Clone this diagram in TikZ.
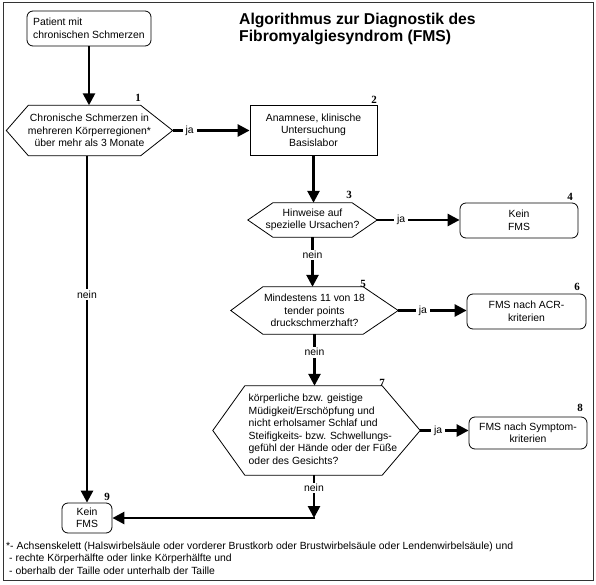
\documentclass[tikz,border=0pt]{standalone}
\usepackage{fontspec}
\setmainfont{Liberation Sans}
\newfontfamily\numfont{Liberation Serif}
\usetikzlibrary{arrows.meta}
\newcommand\hexpath[3]{\draw[hexline] (#1.west) -- ([xshift=#2pt]#1.north west) -- ([xshift=-#3pt]#1.north east) -- (#1.east) -- ([xshift=-#3pt]#1.south east) -- ([xshift=#2pt]#1.south west) -- cycle;}
\begin{document}
\begin{tikzpicture}[x=1pt,y=-1pt,
  every node/.style={font=\fontsize{10.4}{12.5}\selectfont, inner sep=0pt},
  box/.style={draw=black, line width=0.8pt, align=center},
  rbox/.style={box, rounded corners=6pt},
  hexnode/.style={align=center},
  hexline/.style={draw=black, line width=0.8pt},
  arr/.style={line width=2.6pt, -{Triangle[length=12pt,width=12pt]}},
  lbl/.style={fill=white, inner xsep=3pt, inner ysep=1.5pt},
  num/.style={font=\fontsize{11}{11}\selectfont\numfont\bfseries},
  titlef/.style={font=\fontsize{15.7}{17}\selectfont\bfseries, anchor=base west},
  foot/.style={anchor=base west},
  frame/.style={draw=black!80, line width=1pt}]

\useasboundingbox (0,0) rectangle (596,585);
\draw[frame] (3,3) rectangle (593,580);

% title
\node[titlef] (title1) at (239,25) {Algorithmus zur Diagnostik des};
\node[titlef] (title2) at (239,42) {Fibromyalgiesyndrom (FMS)};

% nodes
\node[rbox, align=left, minimum width=124pt, minimum height=35pt] (start) at (89,28.5) {Patient mit\\chronischen Schmerzen};

\node[hexnode, minimum width=166pt, minimum height=50pt] (h1) at (89.5,130.5) {Chronische Schmerzen in\\mehreren Körperregionen*\\über mehr als 3 Monate};
\hexpath{h1}{22}{32}

\node[box, minimum width=127pt, minimum height=50pt] (b2) at (313.5,130) {Anamnese, klinische\\Untersuchung\\Basislabor};

\node[hexnode, minimum width=129pt, minimum height=34pt] (h3) at (312.5,220) {Hinweise auf\\spezielle Ursachen?};
\hexpath{h3}{25}{25}

\node[rbox, minimum width=118pt, minimum height=35pt] (b4) at (519,220.5) {Kein\\FMS};

\node[hexnode, minimum width=167pt, minimum height=47pt] (h5) at (314.5,310.5) {Mindestens 11 von 18\\tender points\\druckschmerzhaft?};
\hexpath{h5}{32}{35}

\node[rbox, minimum width=119pt, minimum height=35pt] (b6) at (526.5,311.5) {FMS nach ACR-\\kriterien};

\node[hexnode, minimum width=207pt, minimum height=89pt] (h7) at (316.5,430.5) {\begin{tabular}{@{\hspace{13pt}}l@{}}körperliche bzw. geistige\\Müdigkeit/Erschöpfung und\\nicht erholsamer Schlaf und\\Steifigkeits- bzw. Schwellungs-\\gefühl der Hände oder der Füße\\oder des Gesichts?\end{tabular}};
\hexpath{h7}{32}{38}

\node[rbox, minimum width=118pt, minimum height=32pt] (b8) at (528,433) {FMS nach Symptom-\\kriterien};

\node[rbox, minimum width=50pt, minimum height=30pt] (b9) at (87,518) {Kein\\FMS};

% numbers
\node[num] (n1) at (138,98) {1};
\node[num] (n2) at (374,100) {2};
\node[num] (n3) at (349,195) {3};
\node[num] (n4) at (570,197) {4};
\node[num] (n5) at (363,284) {5};
\node[num] (n6) at (577,287) {6};
\node[num] (n7) at (382,383) {7};
\node[num] (n8) at (580,408) {8};
\node[num] (n9) at (107,497) {9};

% connectors
\draw[arr] (start.south) -- (start.south |- h1.north);
\draw[arr] (h1.east) -- node[lbl, pos=0.22] (ja1) {ja} (h1.east -| b2.west);
\draw[arr] (h1.south -| b9.north) -- node[lbl, pos=0.4] (nein1) {nein} (b9.north);
\draw[arr] (b2.south) -- (b2.south |- h3.north);
\draw[arr] (h3.east) -- node[lbl, pos=0.29] (ja3) {ja} (h3.east -| b4.west);
\draw[arr] (h3.south) -- node[lbl, pos=0.36] (nein3) {nein} (h3.south |- h5.north);
\draw[arr] (h5.east) -- node[lbl, pos=0.36] (ja5) {ja} (h5.east -| b6.west);
\draw[arr] (h5.south) -- node[lbl, pos=0.35] (nein5) {nein} (h5.south |- h7.north);
\draw[arr] (h7.east) -- node[lbl, pos=0.37] (ja7) {ja} (h7.east -| b8.west);
\coordinate (c9) at ([xshift=-2.5pt]h7.south |- b9.east);
\draw[arr] ([xshift=-2.5pt]h7.south) -- node[lbl, pos=0.3] (nein7) {nein} (c9);
\draw[arr] ([xshift=1.3pt]c9) -- (b9.east);

% footnote
\node[foot] (f1) at (6,549) {*- Achsenskelett (Halswirbelsäule oder vorderer Brustkorb oder Brustwirbelsäule oder Lendenwirbelsäule) und};
\node[foot] (f2) at (9,561.5) {- rechte Körperhälfte oder linke Körperhälfte und};
\node[foot] (f3) at (9,574) {- oberhalb der Taille oder unterhalb der Taille};
\end{tikzpicture}
\end{document}
